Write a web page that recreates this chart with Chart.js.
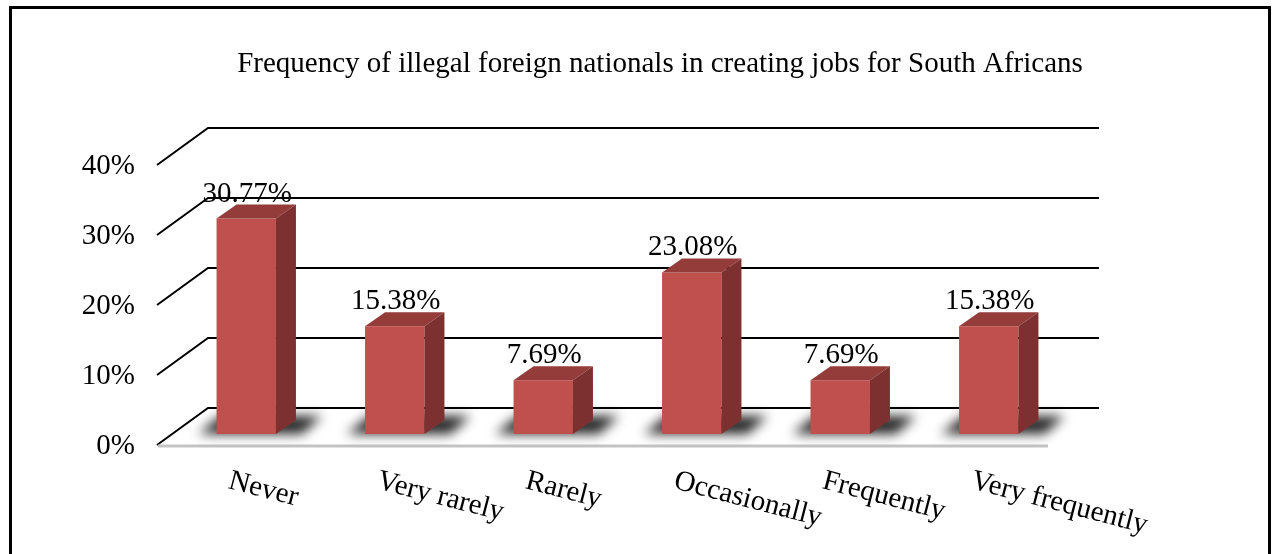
<!DOCTYPE html>
<html>
<head>
<meta charset="utf-8">
<script src="https://cdn.jsdelivr.net/npm/chart.js@4.4.1/dist/chart.umd.min.js"></script>
<style>
  body { margin: 0; background: #fff; }
  #wrap { width: 1276px; height: 554px; }
</style>
</head>
<body>
<div id="wrap"><canvas id="myChart"></canvas></div>
<script>
var chartTitle = 'Frequency of illegal foreign nationals in creating jobs for South Africans';
var labels = ['Never', 'Very rarely', 'Rarely', 'Occasionally', 'Frequently', 'Very frequently'];
var shares = [30.77, 15.38, 7.69, 23.08, 7.69, 15.38];
var tickValues = [0, 10, 20, 30, 40];

var serif = '"Liberation Serif", "Times New Roman", serif';

// offsets from the plane the bars stand in
var FRONT = { dx: -15, dy: 11 };   // front edge of floor / side wall
var BACK = { dx: 36, dy: -26 };    // back wall
var DEPTH = { dx: 20, dy: -14 };   // bar thickness

var box3d = {
    id: 'box3d',
    beforeDatasetsDraw: function (chart) {
        var ctx = chart.ctx;
        var x = chart.scales.x, y = chart.scales.y;
        var area = chart.chartArea;
        ctx.save();

        // outer frame
        ctx.strokeStyle = '#000';
        ctx.lineWidth = 3;
        ctx.strokeRect(10.5, 7.5, 1259, 570);

        // title
        ctx.fillStyle = '#000';
        ctx.font = '29px ' + serif;
        ctx.textAlign = 'center';
        ctx.textBaseline = 'alphabetic';
        ctx.fillText(chartTitle, 660, 72);

        // back wall lines and side wall diagonals
        ctx.lineWidth = 2;
        ctx.strokeStyle = '#000';
        tickValues.forEach(function (v) {
            var py = y.getPixelForValue(v);
            ctx.beginPath();
            ctx.moveTo(area.left + FRONT.dx, py + FRONT.dy);
            ctx.lineTo(area.left + BACK.dx, py + BACK.dy);
            ctx.lineTo(area.right + BACK.dx, py + BACK.dy);
            ctx.stroke();
        });

        // floor front edge
        var base = y.getPixelForValue(0);
        ctx.strokeStyle = '#c4c4c4';
        ctx.lineWidth = 3;
        ctx.beginPath();
        ctx.moveTo(area.left + FRONT.dx + 1, base + FRONT.dy + 1);
        ctx.lineTo(area.right + FRONT.dx, base + FRONT.dy + 1);
        ctx.stroke();

        // value axis labels on the front edge
        ctx.fillStyle = '#000';
        ctx.font = '29px ' + serif;
        ctx.textAlign = 'right';
        ctx.textBaseline = 'middle';
        tickValues.forEach(function (v) {
            ctx.fillText(v + '%', 135, y.getPixelForValue(v) + FRONT.dy + 1);
        });

        // category labels, slanted
        ctx.font = '29px ' + serif;
        ctx.textAlign = 'left';
        ctx.textBaseline = 'alphabetic';
        labels.forEach(function (lab, i) {
            ctx.save();
            ctx.translate(x.getPixelForValue(i) + FRONT.dx - 4, 488);
            ctx.rotate(14.5 * Math.PI / 180);
            ctx.fillText(lab, 0, 0);
            ctx.restore();
        });

        // soft shadows on the floor under each bar
        var meta = chart.getDatasetMeta(0);
        ctx.filter = 'blur(6px)';
        ctx.fillStyle = 'rgba(0,0,0,0.85)';
        meta.data.forEach(function (bar) {
            var l = bar.x - bar.width / 2, r = bar.x + bar.width / 2, b = bar.base;
            ctx.beginPath();
            ctx.moveTo(l - 18, b);
            ctx.lineTo(r + 26, b);
            ctx.lineTo(r + 46, b - 18);
            ctx.lineTo(l + 4, b - 18);
            ctx.closePath();
            ctx.fill();
        });
        ctx.filter = 'none';
        ctx.restore();
    },
    afterDatasetsDraw: function (chart) {
        var ctx = chart.ctx;
        var meta = chart.getDatasetMeta(0);
        ctx.save();
        meta.data.forEach(function (bar, i) {
            var l = bar.x - bar.width / 2, r = bar.x + bar.width / 2;
            var t = bar.y, b = bar.base;
            // top face
            ctx.fillStyle = '#933c3a';
            ctx.beginPath();
            ctx.moveTo(l, t);
            ctx.lineTo(l + DEPTH.dx, t + DEPTH.dy);
            ctx.lineTo(r + DEPTH.dx, t + DEPTH.dy);
            ctx.lineTo(r, t);
            ctx.closePath();
            ctx.fill();
            // side face
            ctx.fillStyle = '#7c3130';
            ctx.beginPath();
            ctx.moveTo(r, t);
            ctx.lineTo(r + DEPTH.dx, t + DEPTH.dy);
            ctx.lineTo(r + DEPTH.dx, b + DEPTH.dy);
            ctx.lineTo(r, b);
            ctx.closePath();
            ctx.fill();
            // value label
            ctx.fillStyle = '#000';
            ctx.font = '29px ' + serif;
            ctx.textAlign = 'center';
            ctx.textBaseline = 'alphabetic';
            ctx.fillText(shares[i].toFixed(2) + '%', bar.x + 1, t + DEPTH.dy - 3);
        });
        ctx.restore();
    }
};

var ctx = document.getElementById('myChart').getContext('2d');
var chart = new Chart(ctx, {
    type: 'bar',
    data: {
        labels: labels,
        datasets: [{
            data: shares,
            backgroundColor: '#c0504d',
            borderWidth: 0,
            categoryPercentage: 1,
            barPercentage: 0.4
        }]
    },
    options: {
        responsive: true,
        maintainAspectRatio: false,
        animation: false,
        layout: { padding: { left: 172, right: 213, top: 154, bottom: 120 } },
        plugins: {
            legend: { display: false },
            title: { display: false },
            tooltip: { enabled: false }
        },
        scales: {
            x: { display: false },
            y: { display: false, min: 0, max: 40 }
        }
    },
    plugins: [box3d]
});
</script>
</body>
</html>
